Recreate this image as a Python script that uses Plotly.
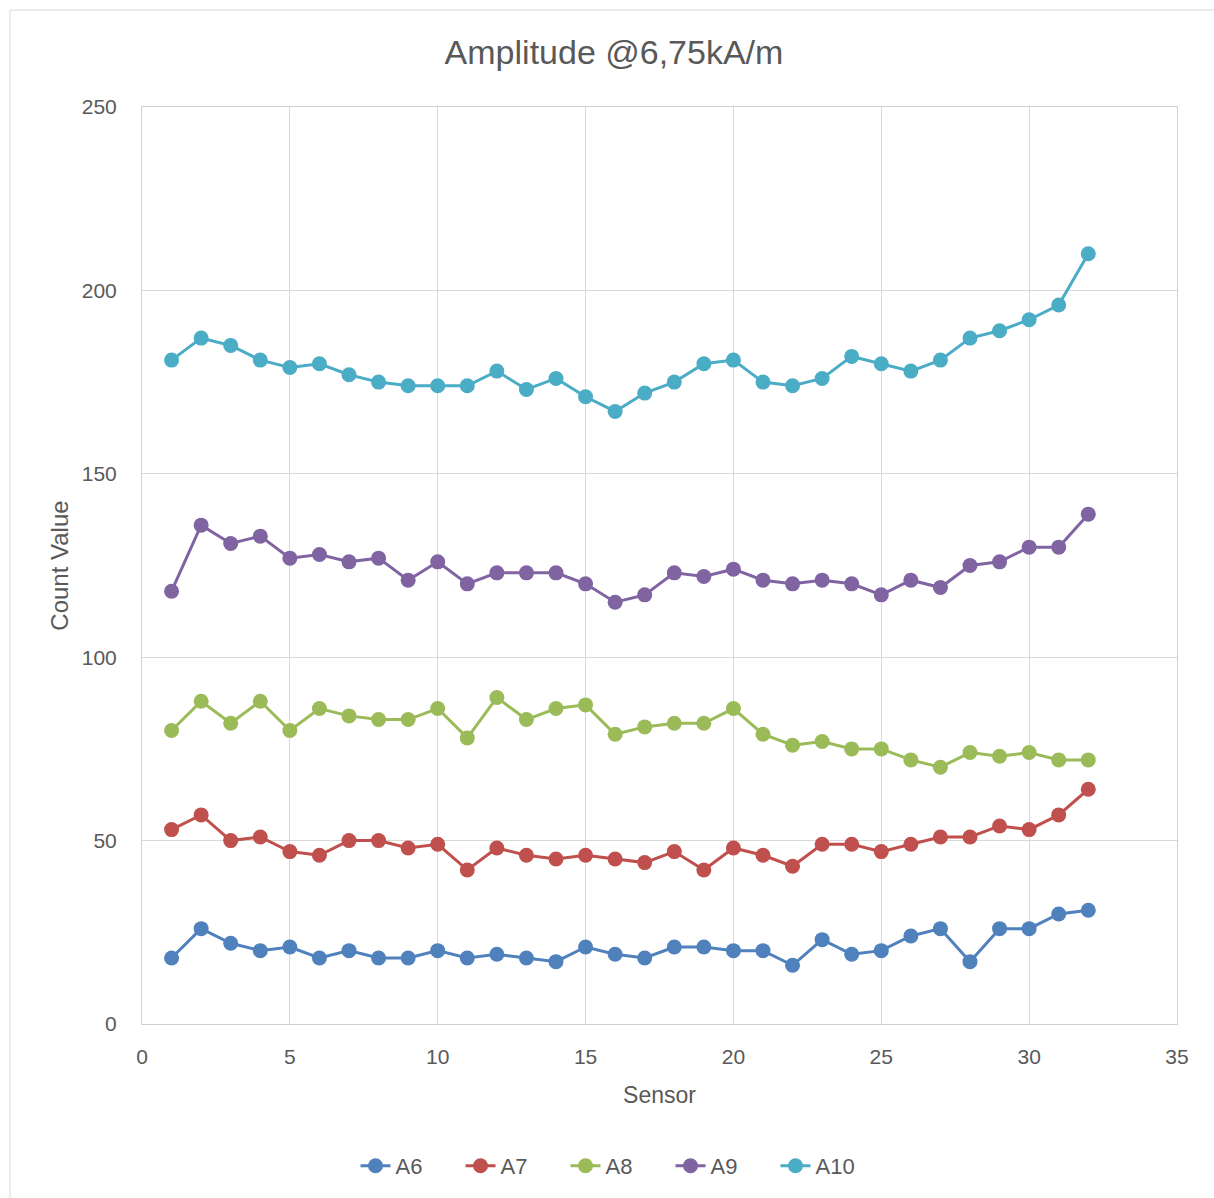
import plotly.graph_objects as go

sensors = list(range(1, 33))
a6 = [18, 26, 22, 20, 21, 18, 20, 18, 18, 20, 18, 19, 18, 17, 21, 19, 18, 21, 21, 20, 20, 16, 23, 19, 20, 24, 26, 17, 26, 26, 30, 31]
a7 = [53, 57, 50, 51, 47, 46, 50, 50, 48, 49, 42, 48, 46, 45, 46, 45, 44, 47, 42, 48, 46, 43, 49, 49, 47, 49, 51, 51, 54, 53, 57, 64]
a8 = [80, 88, 82, 88, 80, 86, 84, 83, 83, 86, 78, 89, 83, 86, 87, 79, 81, 82, 82, 86, 79, 76, 77, 75, 75, 72, 70, 74, 73, 74, 72, 72]
a9 = [118, 136, 131, 133, 127, 128, 126, 127, 121, 126, 120, 123, 123, 123, 120, 115, 117, 123, 122, 124, 121, 120, 121, 120, 117, 121, 119, 125, 126, 130, 130, 139]
a10 = [181, 187, 185, 181, 179, 180, 177, 175, 174, 174, 174, 178, 173, 176, 171, 167, 172, 175, 180, 181, 175, 174, 176, 182, 180, 178, 181, 187, 189, 192, 196, 210]

series_names = ["A6", "A7", "A8", "A9", "A10"]
series_values = [a6, a7, a8, a9, a10]
colors = ["#4f81bd", "#c0504d", "#9bbb59", "#8064a2", "#4bacc6"]

FONT = "Liberation Sans, Arial, sans-serif"

fig = go.Figure()
for name, vals, col in zip(series_names, series_values, colors):
    fig.add_trace(go.Scatter(
        x=sensors, y=vals, name=name, mode="lines+markers",
        line=dict(color=col, width=3),
        marker=dict(color=col, size=15),
    ))

W, H = 1214, 1198
L, R, T, B = 142, 37, 107, 173
pw, ph = W - L - R, H - T - B

fig.update_layout(
    width=W, height=H,
    margin=dict(l=L, r=R, t=T, b=B),
    paper_bgcolor="white", plot_bgcolor="white",
    font=dict(family=FONT, color="#595959", size=21),
    title=dict(text="Amplitude @6,75kA/m", x=(614 - 0) / W, xanchor="center",
               y=1 - 52 / H, yanchor="middle",
               font=dict(size=34, color="#595959", family=FONT)),
    xaxis=dict(range=[0, 35], dtick=5, tick0=0, showgrid=True, gridcolor="#d9d9d9",
               gridwidth=1, zeroline=False, showline=True, linecolor="#d0d0d0", mirror=True,
               ticks="", ticklabelstandoff=14, tickfont=dict(size=21, color="#595959"),
               title=dict(text="Sensor", font=dict(size=23, color="#595959"), standoff=19)),
    yaxis=dict(range=[0, 250], dtick=50, tick0=0, showgrid=True, gridcolor="#d9d9d9",
               gridwidth=1, zeroline=False, showline=True, linecolor="#d0d0d0", mirror=True,
               ticks="", ticklabelstandoff=20, tickfont=dict(size=21, color="#595959"),
               title=dict(text="Count Value", font=dict(size=24, color="#595959"), standoff=6)),
    legend=dict(orientation="h", x=(618 - L) / pw, xanchor="center",
                y=(H - B - 1166) / ph, yanchor="middle",
                font=dict(size=22, color="#595959"),
                entrywidth=60, entrywidthmode="pixels", tracegroupgap=0),
    showlegend=True,
)

fig.add_shape(type="rect", xref="paper", yref="paper",
              x0=(10 - L) / pw, x1=(W + 5 - L) / pw,
              y0=(H - B - (H + 5)) / ph, y1=(H - B - 10) / ph,
              line=dict(color="#d9d9d9", width=1), fillcolor="rgba(0,0,0,0)", layer="below")

fig.write_html("out.html")
